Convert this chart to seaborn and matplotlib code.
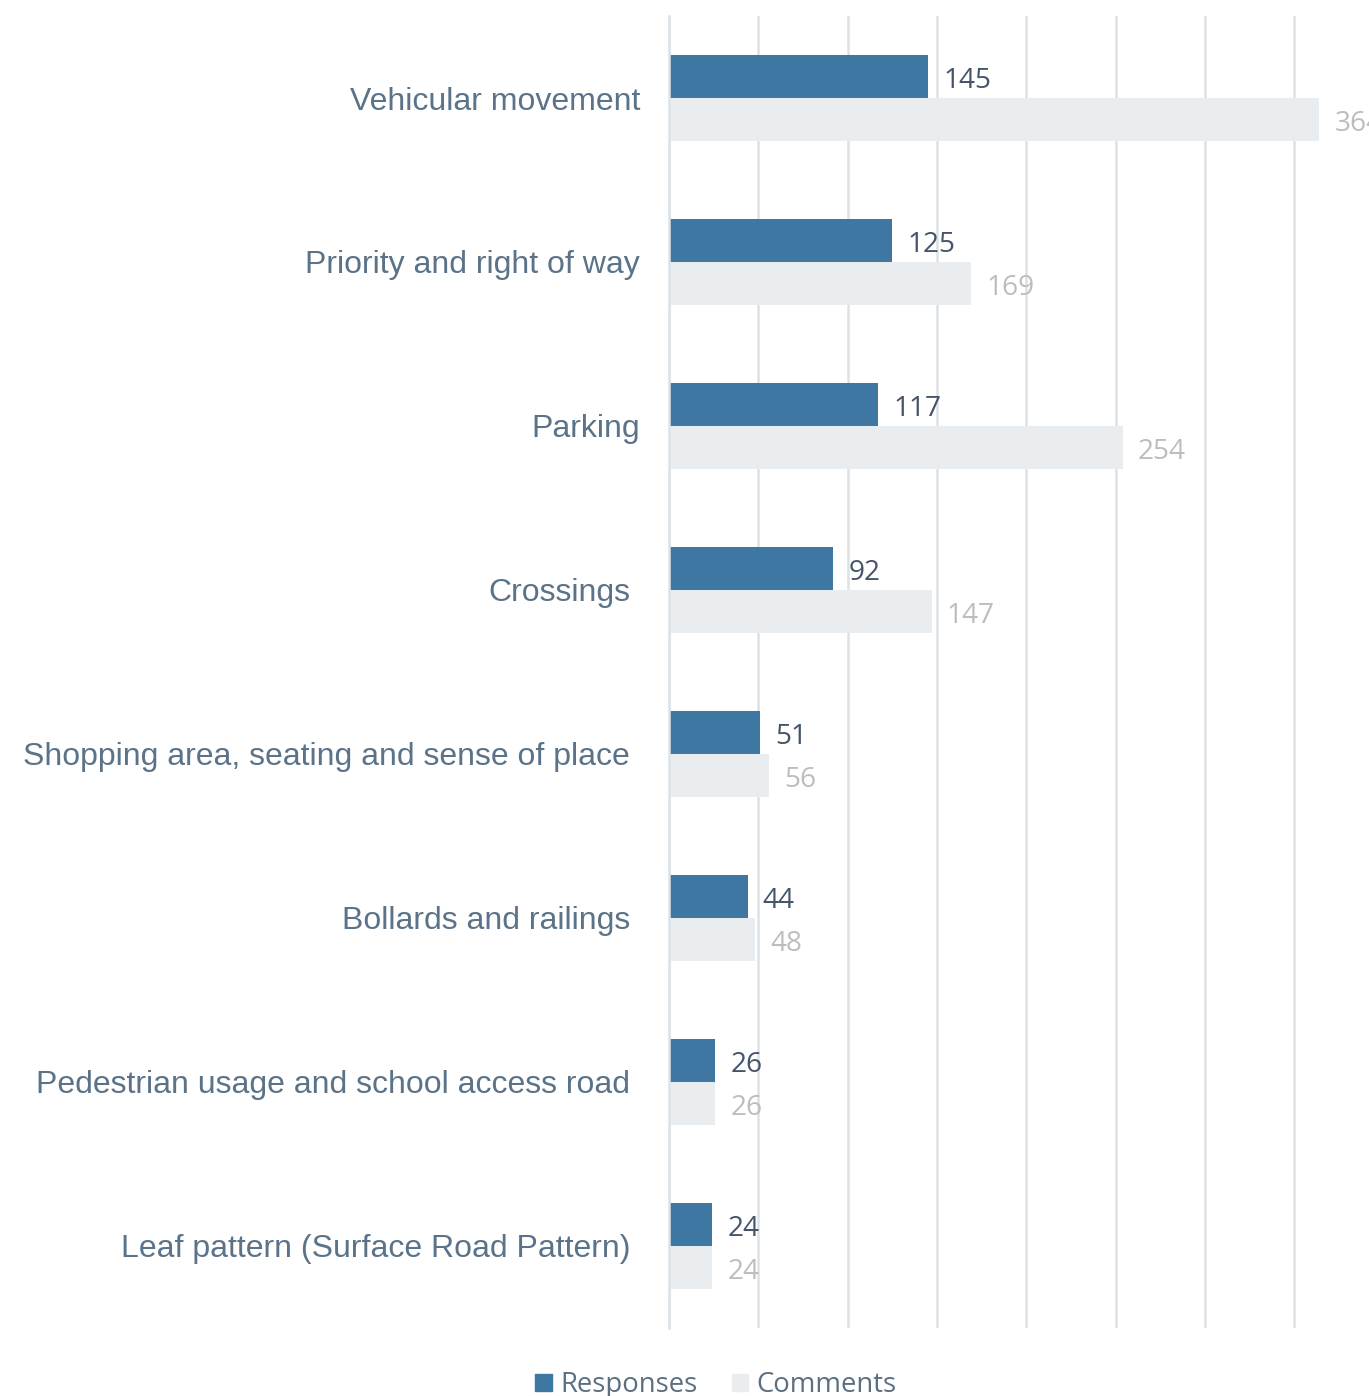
import matplotlib
matplotlib.use("Agg")
import matplotlib.pyplot as plt
import matplotlib.transforms as mtransforms
import seaborn as sns
import pandas as pd

categories = [
    "Vehicular movement",
    "Priority and right of way",
    "Parking",
    "Crossings",
    "Shopping area, seating and sense of place",
    "Bollards and railings",
    "Pedestrian usage and school access road",
    "Leaf pattern (Surface Road Pattern)",
]
responses = [145, 125, 117, 92, 51, 44, 26, 24]
comments = [364, 169, 254, 147, 56, 48, 26, 24]
series = ["Responses", "Comments"]

df = pd.DataFrame({
    "Topic": categories * 2,
    "Count": responses + comments,
    "Series": [series[0]] * len(categories) + [series[1]] * len(categories),
})

sns.set_theme(style="white")
plt.rcParams["font.family"] = ["Liberation Sans", "DejaVu Sans"]

BAR_BLUE = "#3e77a2"
BAR_LIGHT = "#e9edf0"
TICK_COLOR = "#5b7388"
VAL_DARK = "#44546a"
VAL_LIGHT = "#bdbdbd"
GRID = "#dde2e7"

fig = plt.figure(figsize=(13.69, 13.96), dpi=100)
ax = fig.add_axes([669 / 1369, 1 - 1328 / 1396, 714.4 / 1369, (1328 - 16) / 1396])

sns.barplot(
    data=df, y="Topic", x="Count", hue="Series", order=categories,
    hue_order=series, palette=[BAR_BLUE, BAR_LIGHT], orient="h",
    width=0.525, gap=0, saturation=1, linewidth=0, ax=ax, legend=False,
)

ax.set_xlim(0, 400)
ax.set_ylim(len(categories) - 0.5, -0.5)
ax.set_xticks(range(0, 401, 50))
ax.xaxis.grid(True, color=GRID, linewidth=1.8)
ax.set_axisbelow(True)
ax.tick_params(axis="x", length=0, labelbottom=False)
ax.tick_params(axis="y", length=0, pad=28, labelsize=23, labelcolor=TICK_COLOR)
for s in ["top", "right", "bottom"]:
    ax.spines[s].set_visible(False)
ax.spines["left"].set_color(GRID)
ax.spines["left"].set_linewidth(1.8)
ax.set_xlabel("")
ax.set_ylabel("")

# the first three topic labels sit a little closer to the axis
for i, lbl in enumerate(ax.get_yticklabels()):
    dx = 10 if i < 3 else 0
    lbl.set_transform(lbl.get_transform() +
                      mtransforms.ScaledTranslation(dx / 100, 0, fig.dpi_scale_trans))

val_font = ["Open Sans", "DejaVu Sans"]
for container, color in zip(ax.containers, [VAL_DARK, VAL_LIGHT]):
    texts = ax.bar_label(container, padding=11, fontsize=20.2, color=color,
                         family=val_font, clip_on=False)
    for t in texts:
        ox, oy = t.xyann
        t.xyann = (ox, oy - 3.0)

handles = [
    plt.Rectangle((0, 0), 1, 1, color=BAR_BLUE),
    plt.Rectangle((0, 0), 1, 1, color=BAR_LIGHT),
]
fig.legend(
    handles, series, loc="center", bbox_to_anchor=(716 / 1369, 1 - 1385 / 1396),
    ncol=2, frameon=False, handlelength=0.6, handleheight=0.6,
    handletextpad=0.3, columnspacing=1.25,
    prop={"family": val_font, "size": 19.8}, labelcolor="#5b6f80",
)

fig.savefig("out.png", dpi=100)
